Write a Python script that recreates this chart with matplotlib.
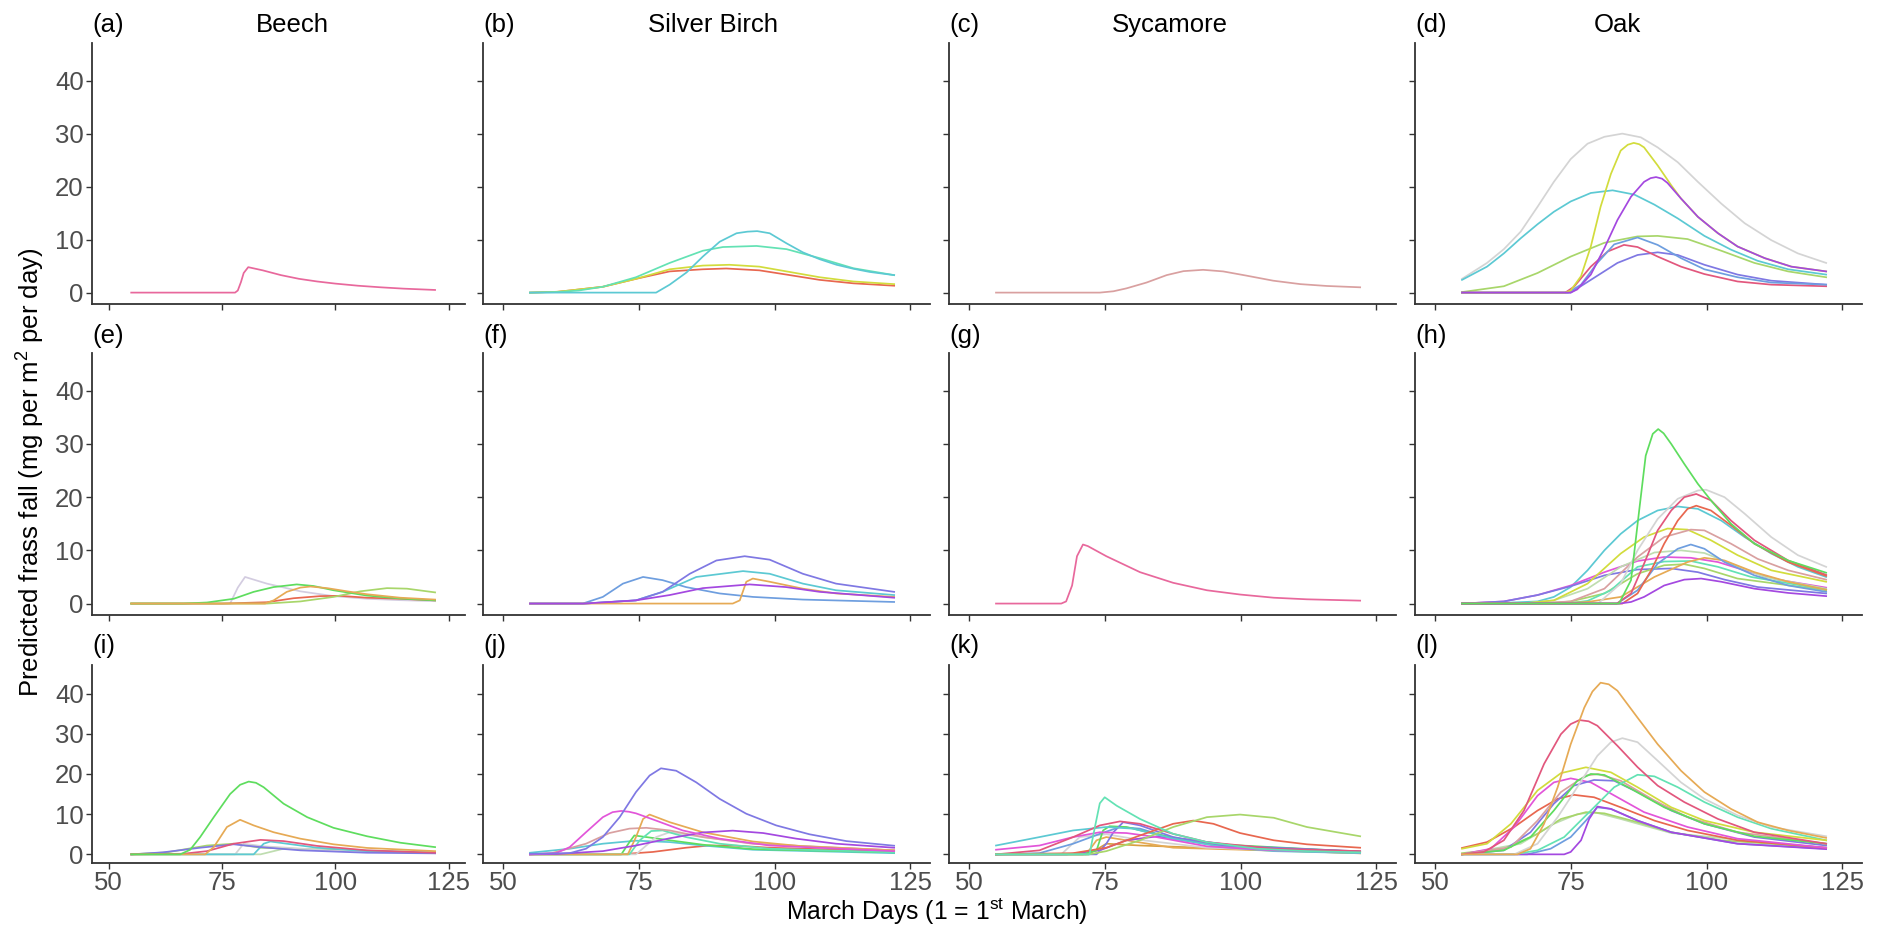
import matplotlib
matplotlib.use("Agg")
import matplotlib.pyplot as plt

plt.rcParams['font.family'] = ['Liberation Sans', 'DejaVu Sans']
plt.rcParams['mathtext.fontset'] = 'custom'
plt.rcParams['mathtext.rm'] = 'Liberation Sans'
plt.rcParams['mathtext.it'] = 'Liberation Sans:italic'

# ---------------- colours ----------------
PINK = "#E8689C"; CYAN = "#5CC9D3"; AQUA = "#63E2B4"; YELLOW = "#D2DC3C"
RED = "#E8674F"; ROSE = "#D9A0A0"; GREY = "#D4D4D4"; PURPLE = "#A448E0"
LGREEN = "#A8D66A"; BLUE = "#6E9EDF"; INDIGO = "#7F78E3"; CRIMSON = "#E2577D"
GREEN = "#5EDD5E"; ORANGE = "#E6AA55"; MAGENTA = "#E255D9"; LAVGREY = "#D3CCE0"
SAGE = "#BFDDB0"; GOLD = "#D9A040"

# ---------------- data ----------------
col_titles = ["Beech", "Silver Birch", "Sycamore", "Oak"]
panel_labels = ["(a)", "(b)", "(c)", "(d)", "(e)", "(f)", "(g)", "(h)", "(i)", "(j)", "(k)", "(l)"]
x_ticks = [50, 75, 100, 125]
y_ticks = [0, 10, 20, 30, 40]

# (a) Beech
a_pink_x = [55, 77.9, 78.5, 79.2, 79.8, 80.8, 84, 88, 92, 96, 100, 105, 110, 115, 122]
a_pink_y = [0, 0, 0.4, 2.0, 3.7, 4.8, 4.2, 3.3, 2.6, 2.1, 1.7, 1.3, 1.0, 0.75, 0.5]

# (b) Silver Birch
b_cyan_x = [55, 78.2, 80.7, 83.8, 86.8, 89.9, 93, 95, 96.8, 99.1, 102.2, 105.2, 108.3, 111.4, 114.5, 117.5, 122]
b_cyan_y = [0, 0, 1.5, 3.8, 6.8, 9.6, 11.2, 11.5, 11.6, 11.2, 9.3, 7.6, 6.3, 5.25, 4.5, 3.9, 3.3]
b_aqua_x = [55, 60, 64, 68.4, 74.5, 80.7, 86.8, 90.5, 96.7, 102.2, 108.3, 114.5, 122]
b_aqua_y = [0, 0.1, 0.4, 1.1, 2.9, 5.6, 7.9, 8.6, 8.8, 8.2, 6.5, 4.6, 3.3]
b_yellow_x = [55, 60, 62.3, 68.4, 74.5, 80.7, 86.8, 91.7, 97.2, 102.2, 108.3, 114.5, 122]
b_yellow_y = [0, 0.15, 0.4, 1.1, 2.6, 4.4, 5.1, 5.25, 4.9, 4.0, 2.9, 2.1, 1.6]
b_red_x = [55, 60, 62.3, 68.4, 74.5, 80.7, 86.8, 91.1, 97.2, 102.2, 108.3, 114.5, 122]
b_red_y = [0, 0.15, 0.4, 1.1, 2.6, 4.0, 4.4, 4.55, 4.2, 3.4, 2.4, 1.75, 1.3]

# (c) Sycamore
c_rose_x = [55, 74.1, 76.6, 79, 82.7, 86.4, 89.5, 93.1, 96.8, 101.1, 106, 111, 115.9, 122]
c_rose_y = [0, 0, 0.25, 0.8, 1.9, 3.3, 4.05, 4.3, 4.0, 3.2, 2.25, 1.6, 1.25, 1.0]

# (d) Oak
d_grey_x = [55, 59.6, 62.7, 65.8, 68.9, 71.9, 75, 78.1, 81.2, 84.5, 87.9, 91, 94.7, 98.4, 102.7, 107, 111.9, 116.8, 122]
d_grey_y = [2.6, 5.6, 8.2, 11.5, 16.2, 20.9, 25.2, 28.1, 29.4, 30, 29.3, 27.4, 24.6, 20.9, 16.8, 13.1, 9.9, 7.4, 5.6]
d_cyan_x = [55, 59.6, 62.7, 65.8, 68.9, 71.9, 75, 78.7, 82.7, 86.7, 90.4, 94.7, 99.6, 104.5, 109.4, 115, 122]
d_cyan_y = [2.4, 4.9, 7.4, 10.25, 12.9, 15.25, 17.2, 18.8, 19.3, 18.5, 16.6, 14, 10.7, 8.1, 6.0, 4.4, 3.4]
d_yellow_x = [55, 74, 75, 76.9, 78.7, 80.5, 82.4, 84.2, 85.5, 86.6, 87.6, 88.5, 91, 93.5, 95.3, 98.4, 102.1, 105.7, 110.7, 115.6, 122]
d_yellow_y = [0, 0, 0.4, 3.1, 8.7, 16.2, 22.4, 26.8, 27.9, 28.25, 28.0, 27.4, 24, 20.25, 17.75, 14.3, 11.2, 8.7, 6.5, 4.9, 4.0]
d_purple_x = [55, 75, 76.2, 78.7, 81.2, 83.6, 86.1, 88.5, 89.7, 90.7, 91.8, 92.8, 95.3, 98.4, 102.1, 105.7, 110.7, 115.6, 122]
d_purple_y = [0, 0, 0.6, 3.4, 8.4, 13.7, 18.1, 20.9, 21.6, 21.8, 21.5, 20.7, 17.75, 14.3, 11.2, 8.7, 6.5, 4.9, 4.0]
d_lgreen_x = [55, 62.7, 68.9, 75, 81.2, 87.3, 91, 96.5, 102.7, 108.8, 115, 122]
d_lgreen_y = [0.1, 1.2, 3.7, 6.8, 9.4, 10.6, 10.7, 10.1, 7.9, 5.6, 4.0, 2.9]
d_blue_x = [55, 74.5, 76.9, 79.9, 83, 87.3, 91, 95.3, 99.6, 105.7, 111.9, 122]
d_blue_y = [0, 0, 1.5, 5.6, 9.1, 10.4, 9, 6.5, 4.4, 2.9, 1.9, 1.5]
d_indigo_x = [55, 75, 78.7, 83.6, 87.3, 91, 94.7, 99.6, 105.7, 111.9, 122]
d_indigo_y = [0, 0, 2.4, 5.6, 7.1, 7.6, 7.1, 5.25, 3.4, 2.25, 1.5]
d_crimson_x = [55, 74, 75.6, 78.7, 81.8, 84.8, 87.3, 91, 95.3, 99.6, 105.7, 111.9, 122]
d_crimson_y = [0, 0, 1.1, 4.9, 7.75, 9, 8.6, 6.8, 4.9, 3.5, 2.1, 1.5, 1.2]

# (e) Beech
e_lav_x = [55, 76.8, 78.5, 80.1, 84.9, 92.3, 99.6, 107, 114, 122]
e_lav_y = [0, 0, 3.0, 5.0, 3.75, 2.3, 1.4, 0.9, 0.65, 0.45]
e_green_x = [55, 66.5, 71.7, 77.6, 82, 86.4, 91.5, 95.2, 99.6, 107, 114.3, 122]
e_green_y = [0, 0, 0.2, 0.9, 2.2, 3.1, 3.6, 3.3, 2.5, 1.5, 0.95, 0.6]
e_orange_x = [55, 84.5, 86.4, 89.3, 92.3, 94.5, 98.2, 102.6, 107, 114.3, 122]
e_orange_y = [0, 0, 0.6, 2.2, 3.0, 3.2, 2.9, 2.3, 1.75, 1.1, 0.75]
e_red_x = [55, 75, 84.9, 90.8, 96.7, 101.1, 107, 114.3, 122]
e_red_y = [0, 0, 0.25, 1.0, 1.4, 1.45, 1.1, 0.9, 0.6]
e_lgreen_x = [55, 85, 92.3, 99.6, 105.5, 111.4, 115.8, 122]
e_lgreen_y = [0, 0, 0.4, 1.25, 2.3, 2.9, 2.8, 2.1]

# (f) Silver Birch
f_blue_x = [55, 64.7, 68.4, 72.1, 75.8, 79.4, 83.7, 89.9, 96, 105.2, 122]
f_blue_y = [0, 0, 1.25, 3.75, 5.0, 4.4, 3.1, 1.9, 1.25, 0.75, 0.3]
f_indigo_x = [55, 65, 74.5, 79.4, 84.4, 89.3, 94.5, 99.1, 105.2, 111.3, 122]
f_indigo_y = [0, 0, 0.6, 2.2, 5.6, 8.1, 8.9, 8.25, 5.6, 3.75, 2.2]
f_cyan_x = [55, 65, 74.5, 79.4, 85.6, 94.2, 99.1, 105.2, 111.3, 122]
f_cyan_y = [0, 0, 0.6, 2.2, 5.0, 6.1, 5.6, 3.75, 2.5, 1.6]
f_purple_x = [55, 65, 74.5, 80.7, 86.8, 95.4, 102.1, 108.3, 122]
f_purple_y = [0, 0, 0.6, 1.6, 2.9, 3.6, 3.1, 2.2, 1.1]
f_orange_x = [55, 92.3, 93.6, 94.8, 96, 99.1, 105.2, 111.3, 122]
f_orange_y = [0, 0, 0.6, 4.1, 4.7, 4.1, 2.8, 1.9, 1.25]

# (g) Sycamore
g_pink_x = [55, 67, 67.9, 69, 69.9, 71, 71.9, 75.3, 81.5, 87.6, 93.8, 99.9, 106.1, 112.2, 122]
g_pink_y = [0, 0, 0.4, 3.4, 8.9, 11.1, 10.8, 8.9, 5.9, 3.9, 2.5, 1.7, 1.1, 0.8, 0.55]

# (h) Oak
h_cyan_x = [55, 62, 68.9, 71.9, 75, 78.1, 81.2, 84.2, 87.3, 91, 94.7, 98.4, 102.7, 107, 111.9, 116.8, 122]
h_cyan_y = [0, 0.1, 0.4, 1.25, 3.1, 6.25, 10, 13.1, 15.6, 17.5, 18.25, 17.8, 15.6, 12.5, 9.4, 6.9, 5.0]
h_magenta_x = [55, 62.7, 68.9, 75, 81.2, 87.3, 92.2, 97.1, 102.1, 107, 113.1, 122]
h_magenta_y = [0, 0.4, 1.6, 3.4, 5.9, 8, 8.75, 8.6, 7.8, 6.25, 4.5, 3.0]
h_indigo_x = [55, 62.7, 68.9, 75, 81.2, 87.3, 93.5, 98.4, 103.3, 109.4, 122]
h_indigo_y = [0, 0.4, 1.6, 3.25, 5.3, 6.4, 6.6, 5.9, 4.5, 3.1, 1.9]
h_sage_x = [55, 66, 71.9, 78.1, 84.2, 90.4, 95.3, 99.6, 104.5, 110.7, 122]
h_sage_y = [0, 0, 0.6, 2.8, 6.9, 9.6, 10, 9.5, 7.5, 5, 2.8]
h_lgreen_x = [55, 70, 75, 81.2, 87.3, 92.2, 95.9, 99.6, 105.7, 122]
h_lgreen_y = [0, 0, 0.4, 1.9, 5.6, 7.2, 7.4, 6.6, 4.7, 2.5]
h_yellow_x = [55, 66, 71.9, 78.1, 84.2, 88.5, 92.8, 96.5, 100.8, 105.7, 111.9, 122]
h_yellow_y = [0, 0, 0.6, 3.75, 9.4, 12.5, 14.1, 13.9, 11.9, 9.1, 6.25, 4.1]
h_rose_x = [55, 68, 75, 81.2, 87.3, 92.2, 97.1, 99.6, 104.5, 109.4, 115, 122]
h_rose_y = [0, 0, 0.4, 2.8, 8.75, 12.5, 13.9, 13.75, 11.25, 8.4, 6.25, 4.5]
h_aqua_x = [55, 74, 78.1, 82.4, 87.3, 92.2, 97.1, 102.1, 108.2, 122]
h_aqua_y = [0, 0, 0.5, 2.5, 6.9, 7.9, 8, 6.9, 5, 2.6]
h_orange_x = [55, 72, 78.1, 84.2, 90.4, 96.5, 99.6, 103.3, 108.8, 115, 122]
h_orange_y = [0, 0, 0.3, 1.25, 5, 7.8, 8.6, 8.1, 5.9, 4.1, 2.6]
h_grey_x = [55, 80, 84.2, 87.3, 91, 94.7, 98.4, 99.9, 103.3, 107, 111.9, 116.8, 122]
h_grey_y = [0, 0, 3.75, 10, 15.9, 19.7, 21.25, 21.4, 20, 16.9, 12.5, 9.1, 6.9]
h_blue_x = [55, 83.5, 87.3, 91, 94.7, 97.1, 99.6, 103.3, 108.8, 115, 122]
h_blue_y = [0, 0, 2.5, 7.5, 10.3, 11.1, 10.3, 7.8, 5.3, 3.4, 2.2]
h_pink_x = [55, 83.5, 86.1, 88.5, 91, 93.5, 95.9, 98.1, 100.8, 104.5, 108.8, 115, 122]
h_pink_y = [0, 0, 1.9, 7.5, 13.75, 17.5, 20, 20.6, 19.4, 15.6, 11.9, 8.1, 5.4]
h_red_x = [55, 84.5, 87.3, 89.8, 92.2, 94.7, 96.5, 98.1, 100.8, 104.5, 108.8, 115, 122]
h_red_y = [0, 0, 1.9, 6.25, 11.25, 15.6, 17.8, 18.4, 17.5, 14.7, 11.25, 7.8, 5.2]
h_purple_x = [55, 84, 86.1, 88.5, 92.2, 95.9, 99, 102.7, 108.8, 115, 122]
h_purple_y = [0, 0, 0.3, 1.25, 3.4, 4.5, 4.7, 4.1, 2.8, 2.0, 1.4]
h_green_x = [55, 83.9, 86.1, 87.6, 88.8, 90.1, 91.1, 92.1, 93.5, 95.9, 98.4, 100.8, 104.5, 108.8, 115, 122]
h_green_y = [0, 0, 4.4, 17.5, 27.8, 31.9, 32.8, 32, 30, 26.25, 22.5, 19.4, 15, 11.25, 8.1, 5.8]

# (i) Beech
i_pgreen_x = [55, 83.5, 88.6, 100, 122]
i_pgreen_y = [0, 0, 1.4, 1.1, 0.6]
i_sage_x = [55, 62.9, 71.7, 77.6, 83.5, 122]
i_sage_y = [0, 0.5, 2.2, 2.65, 1.65, 0.3]
i_grey_x = [55, 77.9, 79.8, 84.2, 100, 122]
i_grey_y = [0, 0, 2.65, 2.0, 0.9, 0.3]
i_cyan_x = [55, 82, 84.2, 85.7, 89.3, 96, 107, 122]
i_cyan_y = [0, 0, 2.65, 3.2, 2.65, 1.65, 0.8, 0.4]
i_indigo_x = [55, 62, 70.2, 77.6, 83.5, 92.3, 107, 122]
i_indigo_y = [0, 0.5, 1.65, 2.5, 1.8, 1.0, 0.4, 0.25]
i_pink_x = [55, 66.5, 71.7, 77.6, 83.5, 88.6, 96, 107, 122]
i_pink_y = [0, 0.15, 0.8, 2.65, 3.6, 3.3, 2.1, 1.0, 0.4]
i_orange_x = [55, 71.3, 73.2, 76.1, 79, 82, 86.4, 92.3, 99.6, 107, 122]
i_orange_y = [0, 0, 1.8, 6.8, 8.6, 7.2, 5.5, 3.9, 2.5, 1.6, 0.8]
i_green_x = [55, 65.8, 68, 70.2, 73.2, 76.8, 79, 80.9, 82.5, 84.2, 88.6, 93.8, 99.6, 107, 114.3, 122]
i_green_y = [0, 0, 1.15, 4.3, 9.25, 15, 17.3, 18.1, 17.8, 16.7, 12.6, 9.25, 6.6, 4.5, 2.9, 1.8]

# (j) Silver Birch
j_red_x = [55, 71.5, 77.6, 83.7, 88, 92.9, 99.1, 122]
j_red_y = [0, 0, 0.6, 1.65, 2.2, 2.15, 1.65, 0.75]
j_cyan_x = [55, 62.3, 68.4, 74.5, 80.7, 86.8, 96, 122]
j_cyan_y = [0.4, 1.4, 2.65, 3.4, 3.05, 2.2, 1.15, 0.3]
j_green_x = [55, 71.8, 73.3, 74.2, 76.4, 80.7, 86.8, 96, 122]
j_green_y = [0, 0, 3.05, 4.7, 4.3, 3.5, 2.4, 1.3, 0.5]
j_grey_x = [55, 74.5, 78.2, 80.7, 86.8, 96, 122]
j_grey_y = [0, 0, 4.3, 5.5, 4.3, 2.65, 1.0]
j_aqua_x = [55, 73.3, 75.2, 77.3, 79.4, 83.7, 89.9, 99.1, 122]
j_aqua_y = [0, 0, 3.5, 5.8, 5.95, 4.3, 2.65, 1.4, 0.5]
j_rose_x = [55, 59, 65.3, 69.6, 73.3, 76.4, 80.7, 86.8, 96, 122]
j_rose_y = [0, 0.3, 2.65, 5.3, 6.4, 6.6, 5.95, 4.3, 2.65, 1.0]
j_orange_x = [55, 73, 74.5, 75.8, 77, 80.7, 86.8, 96, 105.2, 122]
j_orange_y = [0, 0, 4.3, 8.8, 9.9, 8.0, 5.5, 3.2, 2.0, 1.0]
j_purple_x = [55, 60, 68.4, 74.5, 80.7, 86.8, 92.3, 97.9, 104, 111.3, 122]
j_purple_y = [0, 0.1, 0.8, 2.2, 4.0, 5.45, 5.9, 5.3, 3.9, 2.65, 1.65]
j_magenta_x = [55, 59.8, 62.3, 65.3, 68.4, 70.2, 71.8, 73.2, 74.5, 78.2, 83.1, 89.9, 99.1, 122]
j_magenta_y = [0, 0.3, 1.8, 5.5, 9.25, 10.5, 10.8, 10.6, 10.2, 8.4, 5.95, 3.9, 2.2, 0.8]
j_indigo_x = [55, 62.3, 65.3, 68.4, 71.5, 74.5, 77, 79.1, 81.9, 85.6, 89.9, 94.8, 100.3, 106.4, 113.2, 122]
j_indigo_y = [0.15, 0.3, 1.4, 4.3, 9.25, 15.5, 19.6, 21.4, 20.8, 17.9, 13.8, 10.1, 7.2, 5.0, 3.3, 2.15]

# (k) Sycamore
k_gold_x = [55, 72, 75.3, 81.5, 122]
k_gold_y = [0, 0, 2.65, 2.2, 0.25]
k_orange_x = [55, 71.6, 73.5, 75.3, 79, 87.6, 122]
k_orange_y = [0, 0, 3.5, 4.3, 3.5, 1.65, 0.3]
k_grey_x = [55, 67, 70.4, 75.3, 81.5, 93.8, 122]
k_grey_y = [0, 0, 4.3, 5.0, 3.6, 1.65, 0.5]
k_purple_x = [55, 68, 74.1, 79, 84.5, 90.7, 99.9, 122]
k_purple_y = [0, 0, 1.0, 3.5, 4.45, 3.6, 2.0, 0.65]
k_blue_x = [55, 63, 69.2, 74.1, 77.8, 81.5, 87.6, 96.8, 122]
k_blue_y = [0, 0.3, 2.65, 5.1, 6.8, 6.4, 3.9, 2.0, 0.6]
k_green_x = [55, 71, 73.5, 74.7, 75.9, 79, 84.5, 93.8, 122]
k_green_y = [0, 0, 1.0, 5.95, 7.0, 6.8, 5.0, 2.65, 0.65]
k_indigo_x = [55, 73.5, 75.3, 76.6, 78.4, 81.5, 87.6, 96.8, 122]
k_indigo_y = [0, 0, 2.65, 5.5, 8.0, 7.2, 4.3, 2.2, 0.75]
k_cyan_x = [55, 63, 69.2, 75.3, 80.2, 87.6, 96.8, 106.1, 122]
k_cyan_y = [2.2, 4.3, 5.95, 6.8, 6.4, 3.9, 1.8, 0.8, 0.3]
k_magenta_x = [55, 63, 69.2, 74.1, 79, 84.5, 93.8, 106.1, 122]
k_magenta_y = [1.15, 2.2, 4.3, 5.5, 5.3, 4.3, 2.0, 1.0, 0.5]
k_crimson_x = [55, 63, 69.2, 74.1, 77.8, 81.5, 87.6, 93.8, 106.1, 122]
k_crimson_y = [0, 1.0, 4.3, 7.2, 8.2, 7.6, 5.1, 3.05, 1.4, 0.8]
k_red_x = [55, 69.2, 75.3, 81.5, 87.6, 91.3, 95, 99.9, 106.1, 112.2, 122]
k_red_y = [0, 0.3, 1.65, 4.7, 7.6, 8.4, 7.6, 5.3, 3.5, 2.5, 1.65]
k_lgreen_x = [55, 72, 75.3, 81.5, 87.6, 93.8, 99.9, 106.1, 112.2, 122]
k_lgreen_y = [0, 0, 0.8, 3.5, 6.8, 9.25, 9.9, 9.1, 6.8, 4.5]
k_aqua_x = [55, 72.2, 73.2, 74.1, 75, 77.2, 81.5, 87.6, 93.8, 103, 112.2, 122]
k_aqua_y = [0, 0, 6.8, 12.7, 14.2, 12.1, 8.8, 5.1, 3.05, 1.4, 0.8, 0.5]

# (l) Oak
l_sage_x = [55, 65.8, 71.9, 76.2, 79.3, 84.2, 93.5, 122]
l_sage_y = [0, 2.65, 7.6, 10, 10.5, 8.8, 5.3, 1.5]
l_lgreen_x = [55, 62.7, 68.9, 73.2, 77.8, 81.2, 87.3, 93.5, 102.7, 122]
l_lgreen_y = [0.3, 1.4, 5.1, 8.8, 10.5, 10.2, 8.0, 5.5, 3.5, 1.65]
l_blue_x = [55, 67, 71.3, 75, 77.8, 79.9, 82.4, 87.3, 93.5, 105.7, 122]
l_blue_y = [0, 0, 1.4, 4.3, 8.4, 11.7, 11.3, 8.4, 5.5, 2.65, 1.4]
l_purple_x = [55, 73.8, 75, 76.9, 78.4, 79.9, 82.4, 87.3, 93.5, 105.7, 122]
l_purple_y = [0, 0, 0.6, 3.5, 8.8, 11.9, 11.3, 8.4, 5.5, 2.65, 1.3]
l_red_x = [55, 59.6, 64.6, 68.9, 72.6, 75.6, 79.3, 84.2, 90.4, 96.5, 105.7, 122]
l_red_y = [1.6, 3.05, 6.8, 10.9, 13.8, 14.8, 14.2, 11.7, 8.4, 5.95, 3.5, 1.65]
l_magenta_x = [55, 60.3, 64.6, 68.9, 71.9, 75, 78.7, 83.6, 88.5, 96.5, 105.7, 122]
l_magenta_y = [0, 1.4, 6.8, 14.6, 17.9, 18.9, 17.9, 14.2, 10.5, 6.8, 3.9, 1.65]
l_indigo_x = [55, 62.7, 67.6, 71.9, 75.6, 79.3, 83, 87.3, 93.5, 99.6, 108.8, 122]
l_indigo_y = [0, 1.0, 5.5, 12.6, 17.1, 18.5, 18.3, 15.5, 10.9, 7.6, 4.3, 2.2]
l_rose_x = [55, 64, 68.9, 73.2, 77.8, 80, 84.2, 90.4, 96.5, 105.7, 122]
l_rose_y = [0, 1.8, 8.4, 15.5, 19.6, 20, 18.3, 13.4, 9.25, 5.5, 2.65]
l_green_x = [55, 62.7, 67.6, 71.9, 76.2, 78.7, 81.2, 86.1, 92.2, 99.6, 108.8, 122]
l_green_y = [0, 1.0, 4.3, 10.9, 18.3, 20, 19.75, 16.3, 11.7, 7.6, 4.5, 2.65]
l_aqua_x = [55, 64.6, 68.9, 73.8, 78.7, 83, 87.3, 90.4, 94.7, 99.6, 105.7, 111.9, 122]
l_aqua_y = [0, 0, 1.0, 4.3, 10.9, 16.7, 19.8, 19.4, 16.7, 13, 9.25, 6.4, 3.5]
l_yellow_x = [55, 59.6, 64, 68.9, 73.2, 77.8, 82.4, 87.3, 93.5, 99.6, 108.8, 122]
l_yellow_y = [1.4, 2.65, 7.6, 15.9, 20.2, 21.65, 20.4, 16.7, 11.7, 8.4, 5.5, 3.5]
l_grey_x = [55, 64.6, 68.9, 72.6, 76.2, 79.9, 82.4, 84.5, 87.3, 91, 95.3, 99.6, 105.7, 111.9, 122]
l_grey_y = [0, 0, 2.65, 9.25, 16.7, 24.5, 27.9, 28.9, 27.9, 23.3, 17.9, 13.8, 9.7, 6.8, 4.5]
l_crimson_x = [55, 59, 62.7, 66.4, 70.1, 73.2, 75, 76.6, 78.3, 79.9, 83.6, 87.3, 91, 95.9, 102.1, 108.8, 122]
l_crimson_y = [0, 0.6, 3.5, 10.9, 22.5, 29.9, 32.4, 33.4, 33.1, 32, 27, 21.7, 17.1, 13, 8.8, 5.5, 2.65]
l_orange_x = [55, 65.2, 67.6, 70.1, 72.6, 75, 77.5, 79, 80.5, 82, 83.6, 87.3, 91, 95.3, 99.6, 104.5, 109.4, 115, 122]
l_orange_y = [0, 0, 1.4, 7.6, 16.7, 27.4, 36.5, 40.5, 42.7, 42.3, 40.7, 34, 27.4, 20.8, 15.5, 11.3, 8.0, 5.95, 4.1]

panel_curves = [
    [(a_pink_x, a_pink_y, PINK)],
    [(b_red_x, b_red_y, RED), (b_yellow_x, b_yellow_y, YELLOW), (b_aqua_x, b_aqua_y, AQUA), (b_cyan_x, b_cyan_y, CYAN)],
    [(c_rose_x, c_rose_y, ROSE)],
    [(d_grey_x, d_grey_y, GREY), (d_cyan_x, d_cyan_y, CYAN), (d_lgreen_x, d_lgreen_y, LGREEN),
     (d_indigo_x, d_indigo_y, INDIGO), (d_crimson_x, d_crimson_y, CRIMSON), (d_blue_x, d_blue_y, BLUE),
     (d_yellow_x, d_yellow_y, YELLOW), (d_purple_x, d_purple_y, PURPLE)],
    [(e_lav_x, e_lav_y, LAVGREY), (e_red_x, e_red_y, RED), (e_lgreen_x, e_lgreen_y, LGREEN),
     (e_green_x, e_green_y, GREEN), (e_orange_x, e_orange_y, ORANGE)],
    [(f_blue_x, f_blue_y, BLUE), (f_cyan_x, f_cyan_y, CYAN), (f_indigo_x, f_indigo_y, INDIGO),
     (f_orange_x, f_orange_y, ORANGE), (f_purple_x, f_purple_y, PURPLE)],
    [(g_pink_x, g_pink_y, PINK)],
    [(h_cyan_x, h_cyan_y, CYAN), (h_magenta_x, h_magenta_y, MAGENTA), (h_indigo_x, h_indigo_y, INDIGO),
     (h_sage_x, h_sage_y, SAGE), (h_lgreen_x, h_lgreen_y, LGREEN), (h_yellow_x, h_yellow_y, YELLOW),
     (h_rose_x, h_rose_y, ROSE), (h_aqua_x, h_aqua_y, AQUA), (h_orange_x, h_orange_y, ORANGE),
     (h_grey_x, h_grey_y, GREY), (h_blue_x, h_blue_y, BLUE), (h_pink_x, h_pink_y, CRIMSON),
     (h_red_x, h_red_y, RED), (h_purple_x, h_purple_y, PURPLE), (h_green_x, h_green_y, GREEN)],
    [(i_pgreen_x, i_pgreen_y, SAGE), (i_sage_x, i_sage_y, LGREEN), (i_grey_x, i_grey_y, GREY),
     (i_cyan_x, i_cyan_y, CYAN), (i_indigo_x, i_indigo_y, INDIGO), (i_pink_x, i_pink_y, CRIMSON),
     (i_orange_x, i_orange_y, ORANGE), (i_green_x, i_green_y, GREEN)],
    [(j_red_x, j_red_y, RED), (j_cyan_x, j_cyan_y, CYAN), (j_green_x, j_green_y, GREEN),
     (j_grey_x, j_grey_y, GREY), (j_aqua_x, j_aqua_y, AQUA), (j_rose_x, j_rose_y, ROSE),
     (j_orange_x, j_orange_y, ORANGE), (j_purple_x, j_purple_y, PURPLE), (j_magenta_x, j_magenta_y, MAGENTA),
     (j_indigo_x, j_indigo_y, INDIGO)],
    [(k_gold_x, k_gold_y, GOLD), (k_orange_x, k_orange_y, ORANGE), (k_grey_x, k_grey_y, GREY),
     (k_purple_x, k_purple_y, PURPLE), (k_blue_x, k_blue_y, BLUE), (k_green_x, k_green_y, GREEN),
     (k_indigo_x, k_indigo_y, INDIGO), (k_cyan_x, k_cyan_y, CYAN), (k_magenta_x, k_magenta_y, MAGENTA),
     (k_crimson_x, k_crimson_y, CRIMSON), (k_red_x, k_red_y, RED), (k_lgreen_x, k_lgreen_y, LGREEN),
     (k_aqua_x, k_aqua_y, AQUA)],
    [(l_sage_x, l_sage_y, SAGE), (l_lgreen_x, l_lgreen_y, LGREEN), (l_blue_x, l_blue_y, BLUE),
     (l_purple_x, l_purple_y, PURPLE), (l_red_x, l_red_y, RED), (l_magenta_x, l_magenta_y, MAGENTA),
     (l_indigo_x, l_indigo_y, INDIGO), (l_rose_x, l_rose_y, ROSE), (l_green_x, l_green_y, GREEN),
     (l_aqua_x, l_aqua_y, AQUA), (l_yellow_x, l_yellow_y, YELLOW), (l_grey_x, l_grey_y, GREY),
     (l_crimson_x, l_crimson_y, CRIMSON), (l_orange_x, l_orange_y, ORANGE)],
]

# ---------------- layout (pixels) ----------------
W, H = 1884, 930
col_px = [(92, 465), (483, 930), (949, 1396), (1415, 1862)]
row_px = [(43, 304), (353, 615), (665, 863)]
label_baseline = [32, 343, 653]
title_cx = [292, 713, 1170, 1617]

fig = plt.figure(figsize=(W / 100, H / 100), dpi=100)
AX_COL = "#333333"

for r in range(3):
    for c in range(4):
        x0, x1 = col_px[c]
        y0, y1 = row_px[r]
        ax = fig.add_axes([x0 / W, 1 - y1 / H, (x1 - x0) / W, (y1 - y0) / H])
        for xs, ys, col in panel_curves[r * 4 + c]:
            ax.plot(xs, ys, color=col, lw=1.25, solid_joinstyle='round')
        ax.set_xlim(46.35, 128.6)
        ax.set_ylim(-2.15, 47.1)
        ax.set_xticks(x_ticks)
        ax.set_yticks(y_ticks)
        for s in ("top", "right"):
            ax.spines[s].set_visible(False)
        for s in ("left", "bottom"):
            ax.spines[s].set_color(AX_COL)
            ax.spines[s].set_linewidth(1.3)
        ax.tick_params(direction="out", length=4, width=1.0, color=AX_COL,
                       labelsize=18.5, labelcolor="#4D4D4D", pad=2)
        if c != 0:
            ax.tick_params(axis="y", labelleft=False)
        if r != 2:
            ax.tick_params(axis="x", labelbottom=False)
        fig.text(x0 / W, 1 - label_baseline[r] / H, panel_labels[r * 4 + c],
                 ha="left", va="baseline", fontsize=18.5, color="black")

for c in range(4):
    fig.text(title_cx[c] / W, 1 - 32 / H, col_titles[c], ha="center", va="baseline",
             fontsize=18.5, color="black")

fig.text(31 / W, 1 - 472 / H, r"Predicted frass fall (mg per m$^{\mathrm{2}}$ per day)",
         rotation=90, ha="center", va="center", fontsize=18.5)
fig.text(937 / W, 1 - 920 / H, r"March Days (1 = 1$^{\mathrm{st}}$ March)",
         ha="center", va="baseline", fontsize=17.8)

fig.savefig("out.png", dpi=100)
